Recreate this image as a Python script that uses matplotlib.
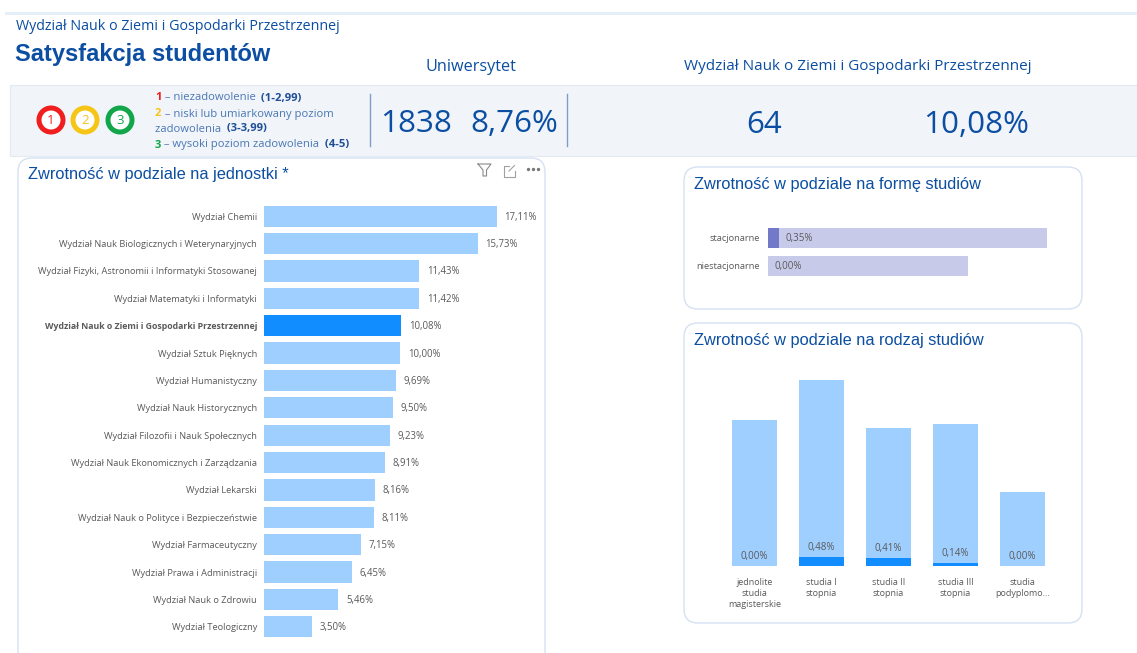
import matplotlib
matplotlib.use("Agg")
import matplotlib.pyplot as plt
from matplotlib.patches import Circle, FancyBboxPatch, Rectangle

W, H = 1137, 653
FONT = "Open Sans"
TITLE_FONT = "Liberation Sans"
NAVY = "#0B4EA2"
GREY = "#5A5A5A"
BORDER = "#D5E1F3"

# Units chart
units = [
    "Wydział Chemii",
    "Wydział Nauk Biologicznych i Weterynaryjnych",
    "Wydział Fizyki, Astronomii i Informatyki Stosowanej",
    "Wydział Matematyki i Informatyki",
    "Wydział Nauk o Ziemi i Gospodarki Przestrzennej",
    "Wydział Sztuk Pięknych",
    "Wydział Humanistyczny",
    "Wydział Nauk Historycznych",
    "Wydział Filozofii i Nauk Społecznych",
    "Wydział Nauk Ekonomicznych i Zarządzania",
    "Wydział Lekarski",
    "Wydział Nauk o Polityce i Bezpieczeństwie",
    "Wydział Farmaceutyczny",
    "Wydział Prawa i Administracji",
    "Wydział Nauk o Zdrowiu",
    "Wydział Teologiczny",
]
unit_values = [17.11, 15.73, 11.43, 11.42, 10.08, 10.00, 9.69, 9.50,
               9.23, 8.91, 8.16, 8.11, 7.15, 6.45, 5.46, 3.50]
highlight_unit = "Wydział Nauk o Ziemi i Gospodarki Przestrzennej"

forms = ["stacjonarne", "niestacjonarne"]
form_values = [0.35, 0.00]
form_totals = [8.88, 6.37]

types = ["jednolite\nstudia\nmagisterskie", "studia I\nstopnia", "studia II\nstopnia",
         "studia III\nstopnia", "studia\npodyplomo..."]
type_values = [0.00, 0.48, 0.41, 0.14, 0.00]
type_totals = [7.68, 9.79, 7.26, 7.47, 3.89]

legend_lines = [
    ("1", "#F01E1E", " – niezadowolenie ", " (1-2,99)", 98),
    ("2", "#F5C518", " – niski lub umiarkowany poziom", "", 114),
    ("", "", "zadowolenia ", " (3-3,99)", 129),
    ("3", "#12A54A", " – wysoki poziom zadowolenia ", " (4-5)", 145),
]


def pct(v):
    return f"{v:.2f}%".replace(".", ",")


def px_axes(fig, left, top, right, bottom):
    """Axes placed by its pixel box, measured from the top left."""
    ax = fig.add_axes([left / W, 1 - bottom / H, (right - left) / W, (bottom - top) / H])
    ax.patch.set_alpha(0)
    for s in ax.spines.values():
        s.set_visible(False)
    ax.tick_params(length=0)
    return ax


def card(bg, x0, y0, x1, y1, r=14):
    bg.add_patch(FancyBboxPatch((x0 + r, y0 + r), x1 - x0 - 2 * r, y1 - y0 - 2 * r,
                                boxstyle=f"round,pad={r},rounding_size={r}",
                                facecolor="white", edgecolor=BORDER, linewidth=1.0))


fig = plt.figure(figsize=(W / 100, H / 100), dpi=100, facecolor="white")

# page furniture in pixel coordinates
bg = fig.add_axes([0, 0, 1, 1])
bg.set_xlim(0, W)
bg.set_ylim(H, 0)
bg.axis("off")

bg.add_patch(Rectangle((5, 12), W - 5, 3, facecolor="#E6EEF8", edgecolor="none"))
bg.add_patch(Rectangle((10, 85), W - 10, 71, facecolor="#F1F5FA", edgecolor="#E3EAF4", linewidth=0.8))

bg.text(16, 26, "Wydział Nauk o Ziemi i Gospodarki Przestrzennej", color=NAVY,
        fontsize=10.3, family=FONT, va="center")
bg.text(15, 54, "Satysfakcja studentów", color=NAVY, fontsize=17,
        family=TITLE_FONT, fontweight="bold", va="center")
bg.text(471, 67, "Uniwersytet", color=NAVY, fontsize=11.7, family=FONT, ha="center", va="center")
bg.text(858, 66, "Wydział Nauk o Ziemi i Gospodarki Przestrzennej", color=NAVY,
        fontsize=11, family=FONT, ha="center", va="center")

# rating circles
for cx, col, num in [(51, "#F01E1E", "1"), (85, "#F5C518", "2"), (120, "#12A54A", "3")]:
    bg.add_patch(Circle((cx, 120), 12, facecolor="white", edgecolor=col, linewidth=3.6))
    bg.text(cx, 120, num, color=col, fontsize=9.5, family=FONT, ha="center", va="center")

# rating legend, pieced together run by run
renderer = fig.canvas.get_renderer()
for num, col, label, rng, y in legend_lines:
    x = 155
    for txt, c, weight in [(num, col, "bold"), (label, "#4A77B4", "normal"), (rng, "#1F4E96", "bold")]:
        if not txt:
            continue
        t = bg.text(x, y, txt.replace(" ", "\u00a0"), color=c, fontsize=8.1, family=FONT,
                    fontweight=weight, va="center")
        x += t.get_window_extent(renderer).width

bg.plot([370, 370], [94, 146], color="#7E9CC6", lw=1)
bg.plot([567, 567], [94, 146], color="#7E9CC6", lw=1)
bg.text(380, 124, "1838", color=NAVY, fontsize=22.6, family=FONT, va="center")
bg.text(558, 124, "8,76%", color=NAVY, fontsize=22.6, family=FONT, va="center", ha="right")
bg.text(764, 125, "64", color=NAVY, fontsize=22.6, family=FONT, va="center", ha="center")
bg.text(976, 125, "10,08%", color=NAVY, fontsize=22.6, family=FONT, va="center", ha="center")

# cards
card(bg, 18, 158, 545, 680)
card(bg, 684, 167, 1082, 309)
card(bg, 684, 323, 1082, 623)
for x, y, s in [(28, 174, "Zwrotność w podziale na jednostki *"),
                (694, 184, "Zwrotność w podziale na formę studiów"),
                (694, 340, "Zwrotność w podziale na rodzaj studiów")]:
    bg.text(x, y, s, color=NAVY, fontsize=11.8, family=TITLE_FONT, va="center")

# visual header icons
bg.plot([478, 491, 486.5, 486.5, 483, 483, 478], [164, 164, 170, 176, 176, 170, 164], color="#8A8A8A", lw=0.8)
bg.plot([509, 503.5, 503.5, 514.5, 514.5], [165.5, 165.5, 176.5, 176.5, 171], color="#A0A0A0", lw=0.8)
bg.plot([509, 514.5], [171, 165.5], color="#A0A0A0", lw=0.8)
bg.plot([528, 533, 538], [169, 169, 169], ls="none", marker="o", ms=1.4, color="#777777")

# units, horizontal bars
ax1 = px_axes(fig, 264, 202.5, 540, 640.5)
y1 = list(range(len(units)))
cols = ["#118DFF" if u == highlight_unit else "#9FCFFF" for u in units]
ax1.barh(y1, unit_values, height=0.78, color=cols)
ax1.set_xlim(0, 276 / 13.6)
ax1.set_ylim(len(units) - 0.5, -0.5)
ax1.xaxis.set_visible(False)
ax1.set_yticks(y1, units, fontsize=6.7, family=FONT, color=GREY)
ax1.tick_params(axis="y", pad=5)
for lab, u in zip(ax1.get_yticklabels(), units):
    if u == highlight_unit:
        lab.set_fontweight("bold")
        lab.set_fontsize(6.3)
for i, v in enumerate(unit_values):
    ax1.annotate(pct(v), (v, i), xytext=(5.5, -0.7), textcoords="offset points", va="center",
                 fontsize=6.9, family=FONT, color=GREY)

# study form, horizontal overlaid bars
ax2 = px_axes(fig, 768, 224, 1060, 280)
ax2.barh(forms, form_totals, height=0.72, color="#C7CAE9")
ax2.barh(forms, form_values, height=0.72, color="#7179C8")
ax2.set_xlim(0, 292 / 31.4)
ax2.set_ylim(1.5, -0.5)
ax2.xaxis.set_visible(False)
ax2.tick_params(axis="y", pad=6)
plt.setp(ax2.get_yticklabels(), fontsize=6.7, family=FONT, color=GREY)
for i, v in enumerate(form_values):
    ax2.annotate(pct(v), (v, i), xytext=(4.5, -0.7), textcoords="offset points", va="center",
                 fontsize=7, family=FONT, color=GREY)

# study type, vertical overlaid bars
ax3 = px_axes(fig, 721, 370, 1056, 566)
xs = list(range(len(types)))
ax3.bar(xs, type_totals, width=0.67, color="#9FCFFF")
ax3.bar(xs, type_values, width=0.67, color="#118DFF")
ax3.set_xlim(-0.5, 4.5)
ax3.set_ylim(0, 196 / 19)
ax3.yaxis.set_visible(False)
ax3.set_xticks(xs, types, fontsize=6.5, family=FONT, color=GREY, linespacing=1.3)
ax3.tick_params(axis="x", pad=8.5)
for i, v in enumerate(type_values):
    ax3.annotate(pct(v), (i, v), xytext=(0, 2.8), textcoords="offset points", ha="center",
                 va="bottom", fontsize=7, family=FONT, color=GREY)

fig.savefig("out.png", dpi=100, facecolor="white")
plt.close(fig)
